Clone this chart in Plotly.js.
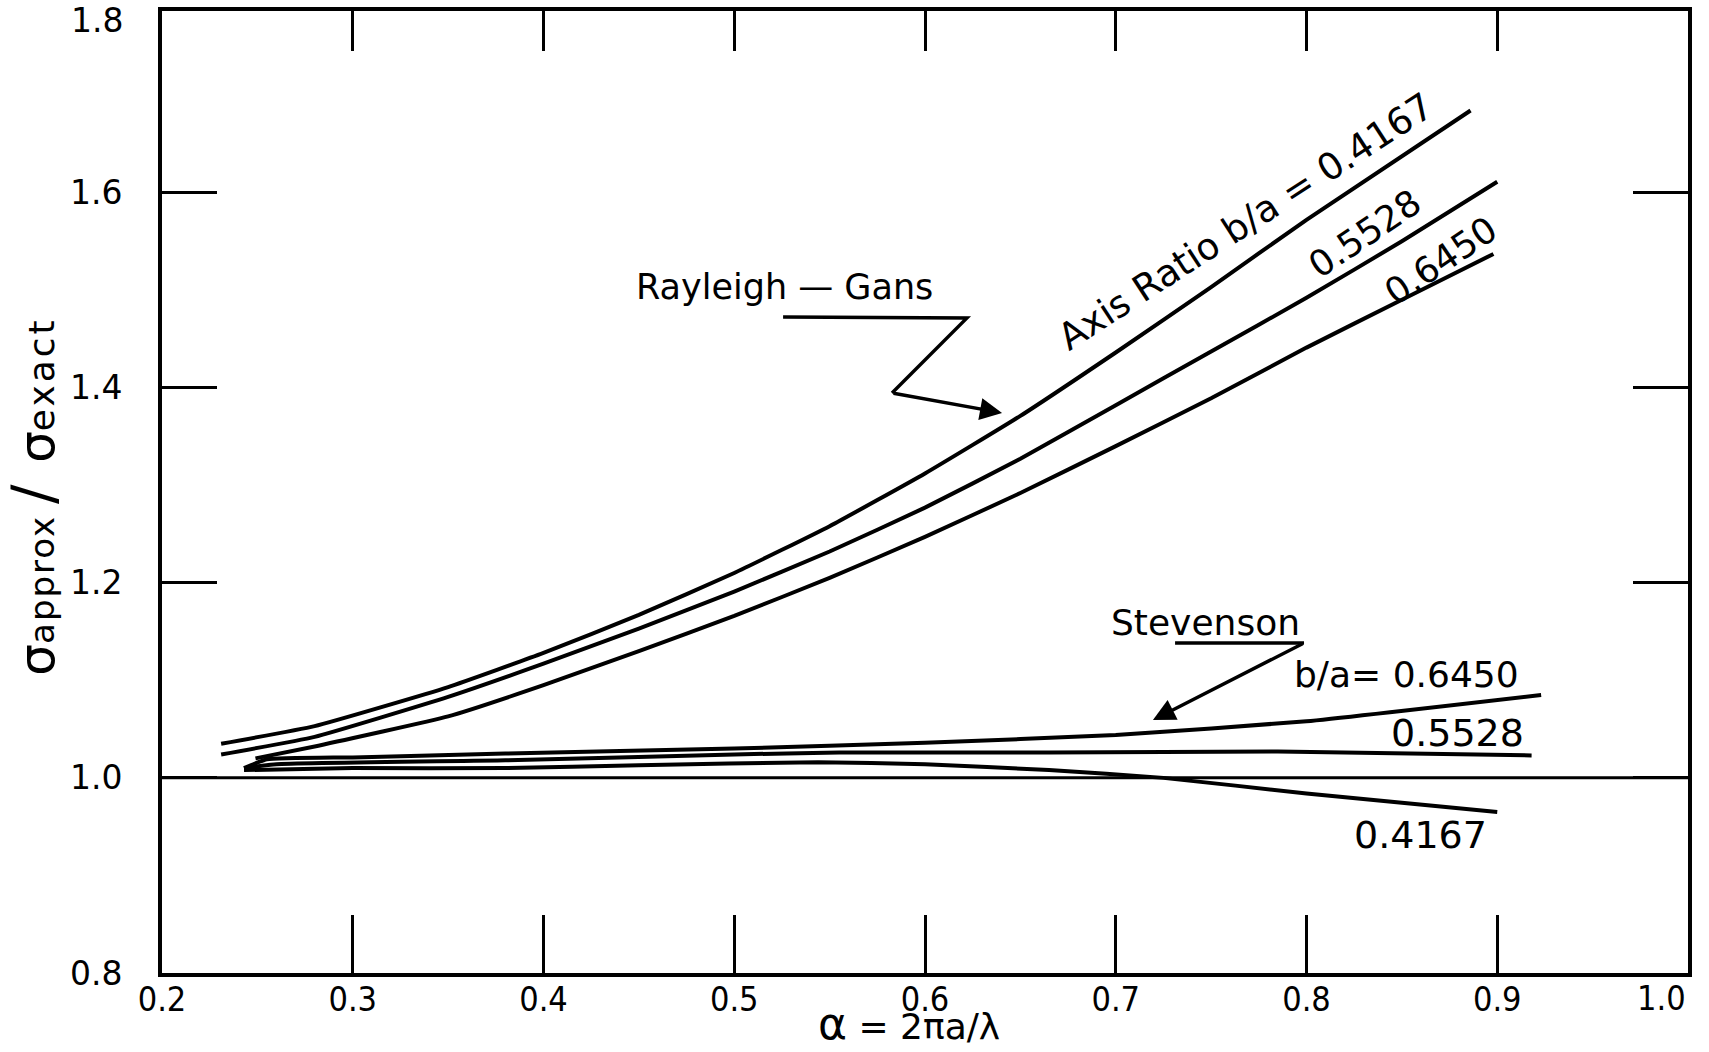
<!DOCTYPE html>
<html>
<head>
<meta charset="utf-8">
<script src="https://cdn.plot.ly/plotly-3.0.1.min.js"></script>
<style>
  html, body { margin: 0; padding: 0; background: #fff; }
  #chart { width: 1709px; height: 1052px; }
</style>
</head>
<body>
<div id="chart"></div>
<script>
// ---- Data ----
// Rayleigh-Gans approximation, axis ratio b/a
const rg4167X = [0.231, 0.280, 0.350, 0.400, 0.450, 0.500, 0.550, 0.600, 0.650, 0.700, 0.750, 0.800, 0.886];
const rg4167Y = [1.035, 1.053, 1.093, 1.128, 1.167, 1.210, 1.258, 1.312, 1.371, 1.436, 1.503, 1.572, 1.684];

const rg5528X = [0.231, 0.280, 0.350, 0.400, 0.450, 0.500, 0.550, 0.600, 0.650, 0.700, 0.750, 0.800, 0.850, 0.900];
const rg5528Y = [1.024, 1.042, 1.083, 1.117, 1.153, 1.191, 1.232, 1.277, 1.327, 1.382, 1.437, 1.492, 1.550, 1.611];

const rg6450X = [0.249, 0.282, 0.350, 0.400, 0.450, 0.500, 0.550, 0.600, 0.650, 0.700, 0.750, 0.800, 0.850, 0.898];
const rg6450Y = [1.020, 1.033, 1.063, 1.095, 1.130, 1.166, 1.205, 1.247, 1.292, 1.340, 1.389, 1.441, 1.490, 1.537];

// Stevenson approximation, axis ratio b/a
const st6450X = [0.243, 0.255, 0.300, 0.380, 0.500, 0.600, 0.700, 0.800, 0.923];
const st6450Y = [1.010, 1.019, 1.021, 1.025, 1.030, 1.036, 1.044, 1.058, 1.085];

const st5528X = [0.243, 0.260, 0.380, 0.500, 0.555, 0.665, 0.785, 0.918];
const st5528Y = [1.010, 1.014, 1.018, 1.024, 1.026, 1.026, 1.027, 1.023];

const st4167X = [0.243, 0.300, 0.380, 0.450, 0.544, 0.600, 0.665, 0.725, 0.800, 0.900];
const st4167Y = [1.008, 1.010, 1.010, 1.013, 1.016, 1.014, 1.008, 1.000, 0.984, 0.965];

const referenceLine = 1.0;

// Tick values / labels
const xTickVals = [0.2, 0.3, 0.4, 0.5, 0.6, 0.7, 0.8, 0.9, 1.0];
const xTickText = ['0.2', '0.3', '0.4', '0.5', '0.6', '0.7', '0.8', '0.9', '1.0'];
const yTickVals = [0.8, 1.0, 1.2, 1.4, 1.6, 1.8];
const yTickText = ['0.8', '1.0', '1.2', '1.4', '1.6', '1.8'];

// Text labels
const xTitle = '<span style="font-size:44px">α</span> = 2πa/λ';
const yTitle = '<span style="font-size:50px">σ</span><span style="letter-spacing:2px">approx</span> ' +
               '<span style="font-size:58px">/</span>  ' +
               '<span style="font-size:50px">σ</span><span style="font-size:36px;letter-spacing:3px">exact</span>';

// ---- Styles ----
const FONT = 'DejaVu Sans, Liberation Sans, sans-serif';
const NARROW = 'DejaVu Sans Condensed, DejaVu Sans, sans-serif';
const curveLine = {color: '#000', width: 4, shape: 'spline', smoothing: 0.4};

function curve(x, y, name) {
  return {x: x, y: y, type: 'scatter', mode: 'lines', name: name,
          line: curveLine, hoverinfo: 'skip', showlegend: false};
}

const traces = [
  curve(rg4167X, rg4167Y, 'Rayleigh-Gans b/a=0.4167'),
  curve(rg5528X, rg5528Y, 'Rayleigh-Gans b/a=0.5528'),
  curve(rg6450X, rg6450Y, 'Rayleigh-Gans b/a=0.6450'),
  curve(st6450X, st6450Y, 'Stevenson b/a=0.6450'),
  curve(st5528X, st5528Y, 'Stevenson b/a=0.5528'),
  curve(st4167X, st4167Y, 'Stevenson b/a=0.4167'),
  {x: [0.2, 1.0], y: [referenceLine, referenceLine], xaxis: 'x2', yaxis: 'y',
   type: 'scatter', mode: 'lines', line: {color: '#000', width: 3}, hoverinfo: 'skip', showlegend: false}
];

const yRange = [0.8, 1.786];
const lastX = xTickVals.length - 1;
const lastY = yTickVals.length - 1;

const layout = {
  width: 1709, height: 1052,
  paper_bgcolor: '#fff', plot_bgcolor: '#fff',
  margin: {l: 162, r: 21, t: 11, b: 79},
  showlegend: false,
  xaxis: {
    range: [0.2, 1.0], tickvals: xTickVals.slice(0, lastX), ticktext: xTickText.slice(0, lastX),
    ticks: 'inside', ticklen: 58, tickwidth: 3, tickcolor: '#000',
    showline: true, linewidth: 4, linecolor: '#000', mirror: true,
    showgrid: false, zeroline: false, ticklabelstandoff: -7,
    tickfont: {family: NARROW, size: 34, color: '#000'}
  },
  xaxis2: {
    range: [0.2, 1.0], overlaying: 'x', side: 'top', tickvals: xTickVals,
    ticks: 'inside', ticklen: 40, tickwidth: 3, tickcolor: '#000',
    showticklabels: false, showline: false, showgrid: false, zeroline: false
  },
  yaxis: {
    range: yRange, tickvals: yTickVals.slice(0, lastY), ticktext: yTickText.slice(0, lastY),
    ticks: 'inside', ticklen: 55, tickwidth: 3, tickcolor: '#000',
    showline: true, linewidth: 4, linecolor: '#000', mirror: 'ticks',
    showgrid: false, zeroline: false, ticklabelstandoff: 29,
    tickfont: {family: FONT, size: 33, color: '#000'}
  },
  shapes: [
    // Rayleigh-Gans leader (underline and zig-zag)
    {type: 'path', xref: 'x', yref: 'y',
     path: 'M 0.5256,1.4724 L 0.6220,1.4714 L 0.5827,1.3945',
     line: {color: '#000', width: 3.4}},
    // Stevenson leader (underline)
    {type: 'line', xref: 'x', yref: 'y', x0: 0.7311, y0: 1.1383, x1: 0.7987, y1: 1.1383,
     line: {color: '#000', width: 3.4}}
  ],
  annotations: [
    // top y tick label (the frame ends just below 1.8) and last x tick label (right-aligned at frame)
    {xref: 'paper', yref: 'paper', x: -0.024, y: 0.9906, xanchor: 'right', yanchor: 'middle',
     text: yTickText[lastY], showarrow: false, font: {family: FONT, size: 33, color: '#000'}},
    {xref: 'x', yref: 'paper', x: xTickVals[lastX], y: -0.003, xanchor: 'right', yanchor: 'top',
     text: xTickText[lastX], showarrow: false, font: {family: NARROW, size: 34, color: '#000'}},
    {xref: 'paper', yref: 'paper', x: 0.4895, y: -0.052, xanchor: 'center', yanchor: 'middle',
     borderpad: 0, text: xTitle, showarrow: false, font: {family: FONT, size: 36, color: '#000'}},
    {xref: 'paper', yref: 'paper', x: -0.084, y: 0.495, xanchor: 'center', yanchor: 'middle',
     text: yTitle, textangle: -90, showarrow: false, font: {family: FONT, size: 34, color: '#000'}},
    {xref: 'x', yref: 'y', x: 0.5266, y: 1.503, text: 'Rayleigh — Gans', showarrow: false,
     font: {family: FONT, size: 35, color: '#000'}},
    // arrow heads
    {xref: 'x', yref: 'y', axref: 'x', ayref: 'y', x: 0.6404, y: 1.374, ax: 0.5827, ay: 1.3945,
     text: '', showarrow: true, arrowhead: 2, arrowsize: 1.3, arrowwidth: 3.4, arrowcolor: '#000'},
    {xref: 'x', yref: 'y', axref: 'x', ayref: 'y', x: 0.7195, y: 1.0593, ax: 0.7987, ay: 1.1383,
     text: '', showarrow: true, arrowhead: 2, arrowsize: 1.3, arrowwidth: 3.4, arrowcolor: '#000'},
    {xref: 'x', yref: 'y', x: 0.7685, y: 1.5700, text: 'Axis Ratio b/a = 0.4167', textangle: -33,
     showarrow: false, font: {family: FONT, size: 37, color: '#000'}},
    {xref: 'x', yref: 'y', x: 0.8307, y: 1.5575, text: '0.5528', textangle: -34, showarrow: false,
     font: {family: FONT, size: 36, color: '#000'}},
    {xref: 'x', yref: 'y', x: 0.8705, y: 1.5298, text: '0.6450', textangle: -34, showarrow: false,
     font: {family: FONT, size: 36, color: '#000'}},
    {xref: 'x', yref: 'y', x: 0.7468, y: 1.1588, text: 'Stevenson', showarrow: false,
     font: {family: FONT, size: 36, color: '#000'}},
    {xref: 'x', yref: 'y', x: 0.8522, y: 1.1055, text: 'b/a= 0.6450', showarrow: false,
     font: {family: FONT, size: 36, color: '#000'}},
    {xref: 'x', yref: 'y', x: 0.8794, y: 1.046, text: '0.5528', showarrow: false,
     font: {family: FONT, size: 38, color: '#000'}},
    {xref: 'x', yref: 'y', x: 0.8600, y: 0.9415, text: '0.4167', showarrow: false,
     font: {family: FONT, size: 38, color: '#000'}}
  ]
};

Plotly.newPlot('chart', traces, layout, {staticPlot: true, displayModeBar: false});
</script>
</body>
</html>
